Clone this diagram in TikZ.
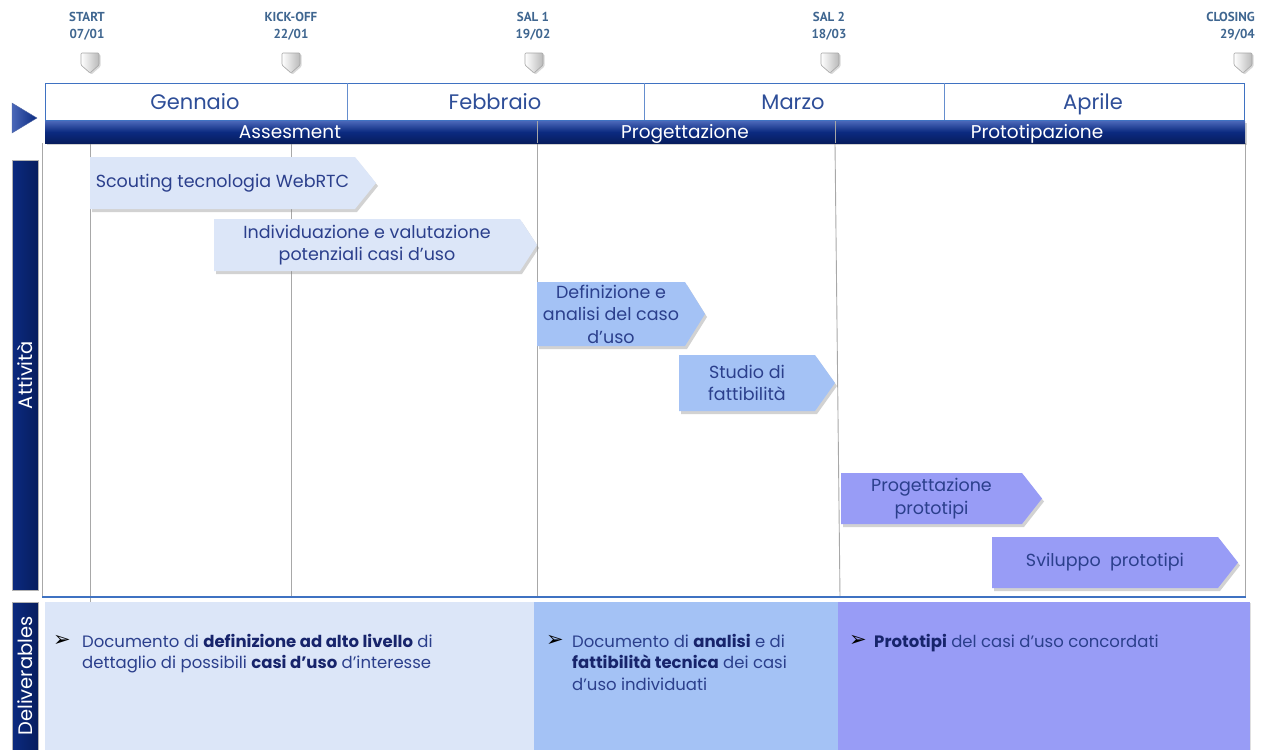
\documentclass[tikz,border=0pt]{standalone}
\usepackage{fontspec}
\setmainfont{Poppins}
\newfontfamily\msfont{PT Sans}
\newfontfamily\dingfont{DejaVu Sans}
\usetikzlibrary{shadows}

\definecolor{navy}{HTML}{0B2A80}
\definecolor{navylight}{HTML}{4A67B8}
\definecolor{navydark}{HTML}{071D5E}
\definecolor{txtblue}{HTML}{2B3F8C}
\definecolor{boldblue}{HTML}{17246B}
\definecolor{msblue}{HTML}{3F6690}
\definecolor{monthblue}{HTML}{2E4E98}
\definecolor{gridblue}{HTML}{3F72C2}
\definecolor{gridgray}{HTML}{A8A8A8}
\definecolor{actA}{HTML}{DCE6F8}
\definecolor{actB}{HTML}{A4C2F5}
\definecolor{actC}{HTML}{989CF6}

\tikzset{
  mslabel/.style={font=\msfont\bfseries\fontsize{13}{17}\selectfont, text=msblue, align=center, inner sep=0pt},
  msmark/.style={left color=white, right color=gray!55, draw=gray!70, line width=0.6pt, rounded corners=1pt,
    drop shadow={shadow xshift=1.5pt, shadow yshift=-1.5pt, opacity=0.3}},
  month/.style={font=\fontsize{21}{25}\selectfont, text=monthblue, inner sep=0pt, anchor=base},
  phase/.style={font=\fontsize{18.5}{22}\selectfont, text=white, inner sep=0pt, anchor=base},
  sidelabel/.style={font=\fontsize{19.5}{23}\selectfont, text=white, rotate=90, inner sep=0pt},
  acttext/.style={font=\fontsize{17.5}{22.5}\selectfont, text=txtblue, align=center, inner sep=0pt},
  deltext/.style={font=\fontsize{16.5}{21.5}\selectfont, text=txtblue, align=left, inner sep=0pt, anchor=north west},
  bul/.style={font=\dingfont\bfseries\fontsize{21}{23}\selectfont, text=black, inner sep=0pt},
  grid/.style={draw=gridgray, line width=0.9pt},
  sidebar/.style={left color=navy, right color=navydark, draw=gray!60, line width=0.6pt},
}

% activity arrow: name, x1, y1, x2 (tip), y2, x of tip start, colour, text
\newcommand\actbox[8]{%
  \fill[#7, drop shadow={shadow xshift=2pt, shadow yshift=-3pt, opacity=0.35}]
    (#2,#3) -- (#6,#3) -- (#4,{(#3+#5)/2}) -- (#6,#5) -- (#2,#5) -- cycle;
  \node[acttext] (#1) at ({(#2+#6)/2},{(#3+#5)/2}) {#8};
}
\newcommand\bt[1]{\textcolor{boldblue}{\bfseries #1}}

\begin{document}
\begin{tikzpicture}[x=1pt,y=-1pt]
\useasboundingbox[fill=white] (0,0) rectangle (1267,750);

% milestones
\foreach \x in {90,291,534,830,1243}{
  \path[msmark] (\x-9,53) -- (\x+9,53) -- (\x+9,65) -- (\x,73) -- (\x-9,65) -- cycle;
}
\node[mslabel] (ms1) at (87,26) {START\\07/01};
\node[mslabel] (ms2) at (291,26) {KICK-OFF\\22/01};
\node[mslabel] (ms3) at (533,26) {SAL 1\\19/02};
\node[mslabel] (ms4) at (829,26) {SAL 2\\18/03};
\node[mslabel, align=right, anchor=east] (ms5) at (1255,26) {CLOSING\\29/04};

% pointer triangle
\shade[left color=navylight, right color=navy, draw=navy!70]
  (12,103) -- (37,118) -- (12,133) -- cycle;

% activity area frame and grid
\draw[grid] (42,143) -- (42,597);
\draw[grid] (1245,143) -- (1245,597);
\draw[grid] (90,143) -- (90,605);
\draw[grid] (291,143) -- (291,597);
\draw[grid] (537,143) -- (537,597);
\draw[grid] (835,143) -- (840,597);
\draw[draw=gridblue, line width=1.2pt] (42,597) -- (1246,597);

% month row
\draw[draw=gridblue, line width=1pt, fill=white] (45,83) rectangle (1244,120);
\foreach \x in {347,644,944}{ \draw[draw=gridblue!80, line width=0.9pt] (\x,83) -- (\x,120); }
\node[month] (m1) at (195,109.5) {Gennaio};
\node[month] (m2) at (495,109.5) {Febbraio};
\node[month] (m3) at (793,109.5) {Marzo};
\node[month] (m4) at (1093,109.5) {Aprile};

% phase bar
\shade[top color=navylight, bottom color=navydark, middle color=navy,
  drop shadow={shadow xshift=1.5pt, shadow yshift=-2pt, opacity=0.35}]
  (45,121) rectangle (1245,143);
\draw[draw=gray!70, line width=0.8pt] (537,121) -- (537,143);
\draw[draw=gray!70, line width=0.8pt] (835,121) -- (835,143);
\node[phase] (p1) at (290,138.5) {Assesment};
\node[phase] (p2) at (685,138.5) {Progettazione};
\node[phase] (p3) at (1037,138.5) {Prototipazione};

% side labels
\path[sidebar] (12,160) rectangle (38,590);
\node[sidelabel] (s1) at (25,375) {Attività};
\path[sidebar] (12,602) rectangle (38,752);
\node[sidelabel] (s2) at (25,676) {Deliverables};

% activities
\actbox{a1}{90}{157}{376}{209}{355}{actA}{Scouting tecnologia WebRTC}
\actbox{a2}{214}{219}{537}{271}{520}{actA}{Individuazione e valutazione\\potenziali casi d’uso}
\actbox{a3}{537}{282}{705}{346}{685}{actB}{Definizione e\\analisi del caso\\d’uso}
\actbox{a4}{679}{355}{835}{411}{815}{actB}{Studio di\\fattibilità}
\actbox{a5}{841}{473}{1042}{524}{1022}{actC}{Progettazione\\prototipi}
\actbox{a6}{992}{537}{1238}{588}{1218}{actC}{Sviluppo~ prototipi}

% deliverables
\fill[actA, drop shadow={shadow xshift=1pt, shadow yshift=-1pt, opacity=0.25}] (45,602) rectangle (534,752);
\fill[actC, drop shadow={shadow xshift=1pt, shadow yshift=-1pt, opacity=0.25}] (838,602) rectangle (1250,752);
\fill[actB] (534,602) rectangle (838,752);

\node[bul] (b1) at (62,641) {➢};
\node[deltext] (d1) at (82,634) {Documento di \bt{definizione ad alto livello} di\\dettaglio di possibili \bt{casi d’uso} d’interesse};
\node[bul] (b2) at (555,641) {➢};
\node[deltext] (d2) at (572,634) {Documento di \bt{analisi} e di\\\bt{fattibilità tecnica} dei casi\\d'uso individuati};
\node[bul] (b3) at (858,641) {➢};
\node[deltext] (d3) at (874,634) {\bt{Prototipi} del casi d'uso concordati};
\end{tikzpicture}
\end{document}
